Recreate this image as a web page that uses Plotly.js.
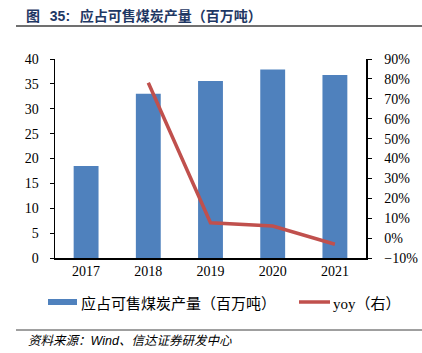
<!DOCTYPE html>
<html><head><meta charset="utf-8">
<script src="https://cdn.plot.ly/plotly-3.0.1.min.js"></script>
<style>html,body{margin:0;padding:0;background:#fff}#chart{width:422px;height:353px}</style>
</head><body><div id="chart"></div>
<script>
const years = ['2017','2018','2019','2020','2021'];
const production = [18.5, 33.0, 35.6, 37.9, 36.8];
const yoyYears = ['2018','2019','2020','2021'];
const yoy = [0.781, 0.077, 0.061, -0.031];
const barName = '应占可售煤炭产量（百万吨）';
const lineName = 'yoy（右）';

const L = 55, R = 366, T = 59, B = 258;
const px = x => (x - L) / (R - L);
const py = y => (B - y) / (B - T);
const serif = '"Liberation Serif", serif';
const cjk = '"Noto Sans CJK SC", sans-serif';

const traces = [
  {type:'bar', x: years, y: production, name: barName, marker:{color:'#4F81BD'}, yaxis:'y', showlegend:false},
  {type:'scatter', mode:'lines', x: yoyYears, y: yoy, name: lineName, line:{color:'#C0504D', width:3.5}, yaxis:'y2', showlegend:false}
];

const layout = {
  width:422, height:353,
  margin:{l:L, r:422-R, t:T, b:353-B, pad:0},
  paper_bgcolor:'#fff', plot_bgcolor:'#fff',
  bargap:0.6,
  hovermode:false,
  title:{text:'<b>图\u2002\u2009<span style="font-family:Liberation Sans">35:</span>\u2002\u2009应占可售煤炭产量（百万吨）</b>', font:{family:cjk, size:14, color:'#1F3864'},
         xref:'container', yref:'container', x:26/422, xanchor:'left', y:1-16/353, yanchor:'middle'},
  xaxis:{type:'category', showline:true, linecolor:'#000', linewidth:1.5, ticks:'', showgrid:false,
         tickfont:{family:serif, size:14, color:'#000'}, zeroline:false},
  yaxis:{range:[0,40], dtick:5, showline:true, linecolor:'#000', linewidth:1.5, ticks:'outside', ticklen:4, tickcolor:'#000',
         showgrid:false, zeroline:false, tickfont:{family:serif, size:14, color:'#000'}, ticklabelstandoff:8},
  yaxis2:{range:[-0.1,0.9], dtick:0.1, tickformat:'.0%', overlaying:'y', side:'right', showline:true, linecolor:'#000', linewidth:1.5,
          ticks:'outside', ticklen:4, tickcolor:'#000', showgrid:false, zeroline:false, tickfont:{family:serif, size:14, color:'#000'}, ticklabelstandoff:10},
  shapes:[
    {type:'line', xref:'paper', yref:'paper', x0:px(16), x1:px(422), y0:py(26), y1:py(26), line:{color:'#404040', width:1.5}},
    {type:'line', xref:'paper', yref:'paper', x0:px(16), x1:px(422), y0:py(330), y1:py(330), line:{color:'#404040', width:1}},
    {type:'rect', xref:'paper', yref:'paper', x0:px(48), x1:px(77), y0:py(299), y1:py(305), fillcolor:'#4F81BD', line:{width:0}},
    {type:'line', xref:'paper', yref:'paper', x0:px(299), x1:px(330), y0:py(302), y1:py(302), line:{color:'#C0504D', width:3.5}}
  ],
  annotations:[
    {xref:'paper', yref:'paper', x:px(79), y:py(302), xanchor:'left', yanchor:'middle', showarrow:false,
     text:barName, font:{family:cjk, size:15, color:'#000'}},
    {xref:'paper', yref:'paper', x:px(331), y:py(302), xanchor:'left', yanchor:'middle', showarrow:false,
     text:'<span style="font-family:Liberation Serif">yoy</span>（右）', font:{family:cjk, size:15, color:'#000'}},
    {xref:'paper', yref:'paper', x:px(26), y:py(339), xanchor:'left', yanchor:'middle', showarrow:false,
     text:'<i>资料来源：<span style="font-family:Liberation Sans">Wind</span>、信达证券研发中心</i>', font:{family:cjk, size:12.5, color:'#000'}}
  ]
};
Plotly.newPlot('chart', traces, layout, {displayModeBar:false, staticPlot:true});
</script></body></html>
